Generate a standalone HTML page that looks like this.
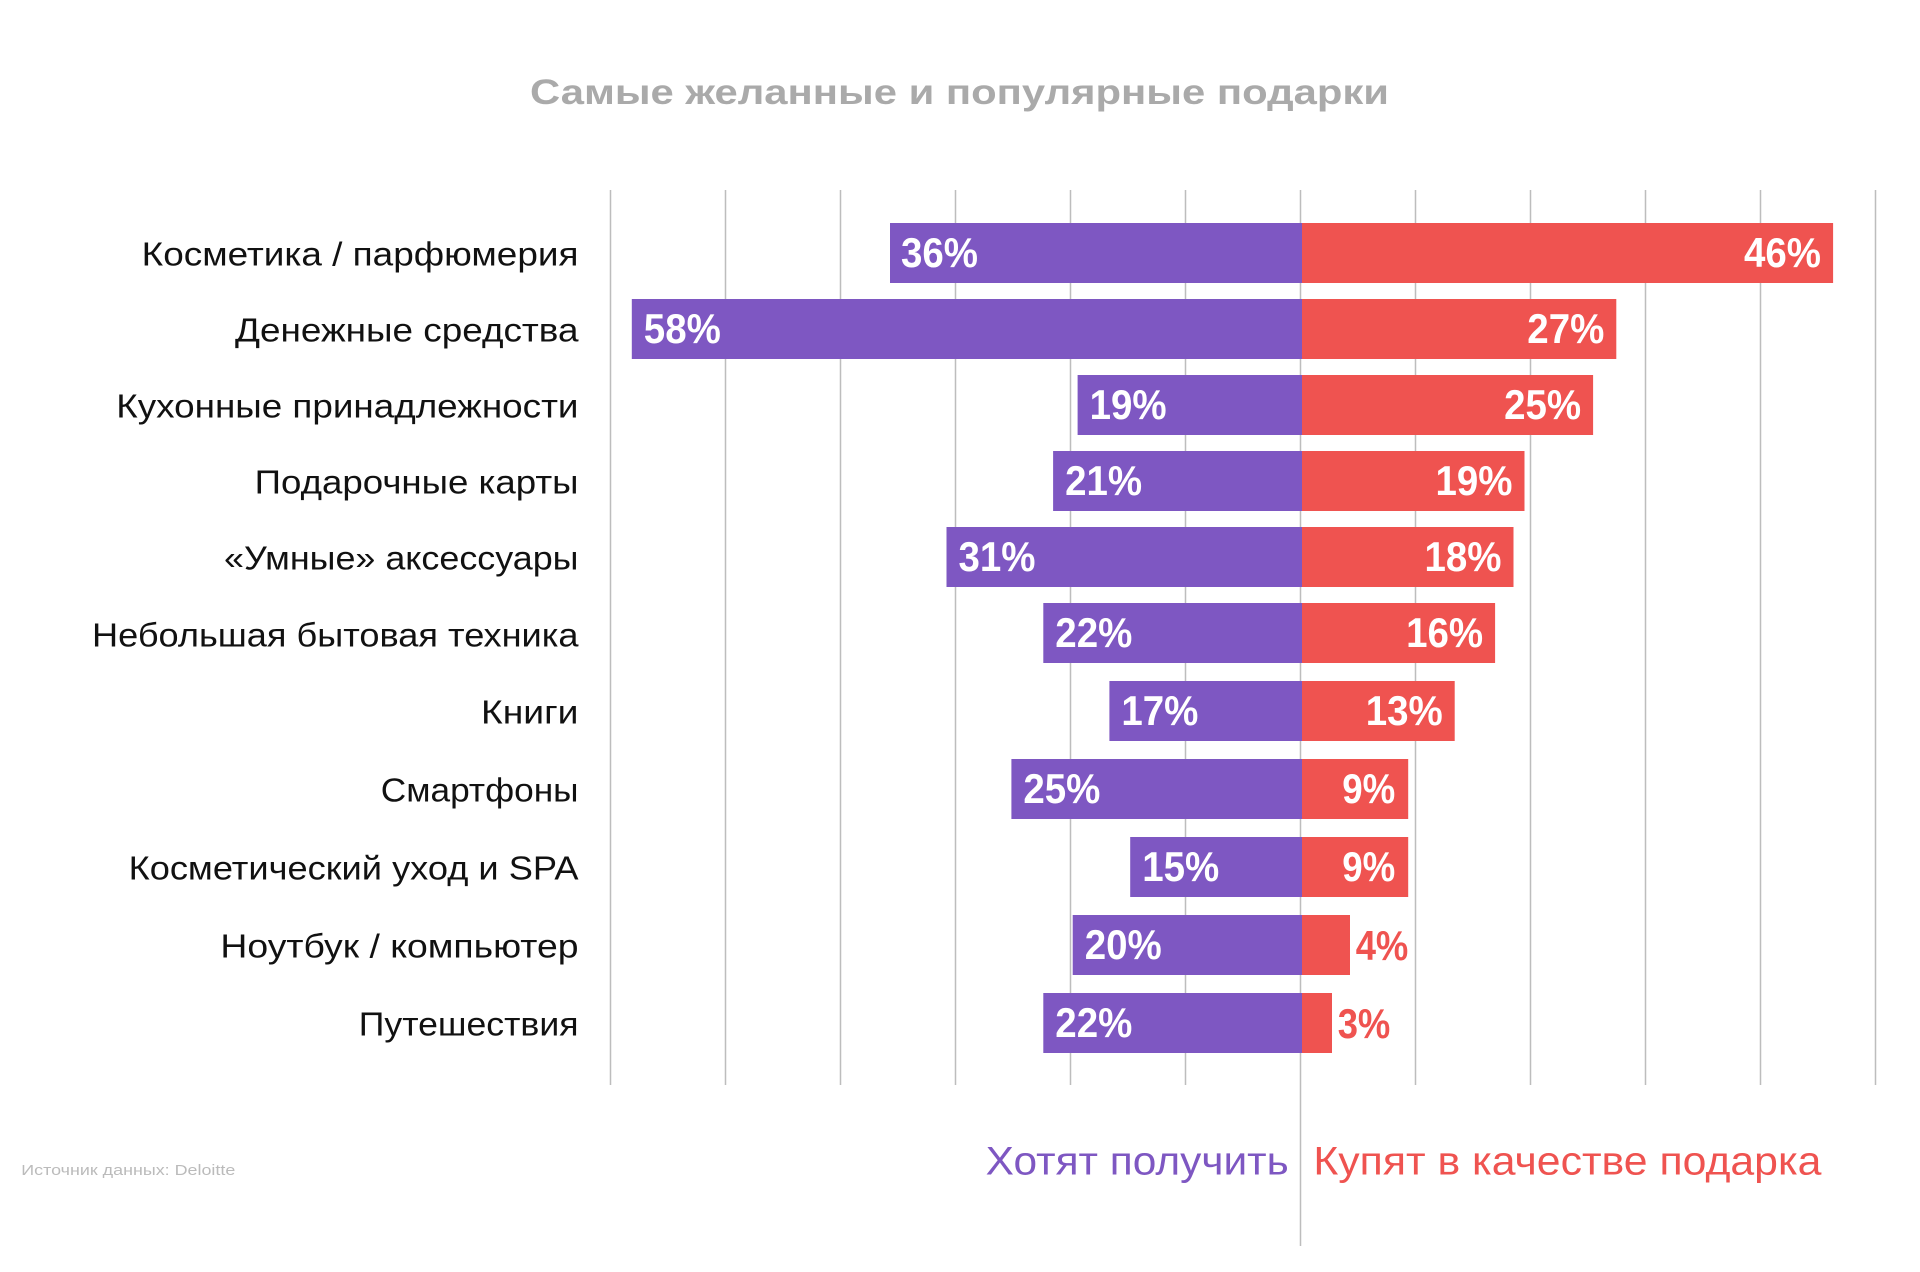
<!DOCTYPE html>
<html>
<head>
<meta charset="utf-8">
<style>
  html, body { margin:0; padding:0; background:#fff; }
  svg { display:block; }
  text { font-family: "Liberation Sans", "DejaVu Sans", sans-serif; }
</style>
</head>
<body>
<svg width="1920" height="1272" viewBox="0 0 1920 1272" xmlns="http://www.w3.org/2000/svg">
  <rect width="1920" height="1272" fill="#ffffff"/>

  <!-- Title -->
  <text x="530" y="104" font-size="35" font-weight="bold" fill="#aaaaaa" textLength="859" lengthAdjust="spacingAndGlyphs">Самые желанные и популярные подарки</text>

  <!-- Grid lines -->
  <g stroke="#bdbdbd" stroke-width="1.5">
    <line x1="610.5" y1="190" x2="610.5" y2="1085"/>
    <line x1="725.5" y1="190" x2="725.5" y2="1085"/>
    <line x1="840.5" y1="190" x2="840.5" y2="1085"/>
    <line x1="955.5" y1="190" x2="955.5" y2="1085"/>
    <line x1="1070.5" y1="190" x2="1070.5" y2="1085"/>
    <line x1="1185.5" y1="190" x2="1185.5" y2="1085"/>
    <line x1="1300.5" y1="190" x2="1300.5" y2="1246"/>
    <line x1="1415.5" y1="190" x2="1415.5" y2="1085"/>
    <line x1="1530.5" y1="190" x2="1530.5" y2="1085"/>
    <line x1="1645.5" y1="190" x2="1645.5" y2="1085"/>
    <line x1="1760.5" y1="190" x2="1760.5" y2="1085"/>
    <line x1="1875.5" y1="190" x2="1875.5" y2="1085"/>
  </g>

  <!-- Bars: purple (left) -->
  <g fill="#7e57c2">
    <rect x="890"    y="223" width="412"   height="60"/>
    <rect x="631.8"  y="299" width="670.2" height="60"/>
    <rect x="1077.6" y="375" width="224.4" height="60"/>
    <rect x="1053.1" y="451" width="248.9" height="60"/>
    <rect x="946.5"  y="527" width="355.5" height="60"/>
    <rect x="1043.3" y="603" width="258.7" height="60"/>
    <rect x="1109.4" y="681" width="192.6" height="60"/>
    <rect x="1011.4" y="759" width="290.6" height="60"/>
    <rect x="1130.2" y="837" width="171.8" height="60"/>
    <rect x="1072.7" y="915" width="229.3" height="60"/>
    <rect x="1043.3" y="993" width="258.7" height="60"/>
  </g>

  <!-- Bars: red (right) -->
  <g fill="#ef5350">
    <rect x="1302" y="223" width="531.1" height="60"/>
    <rect x="1302" y="299" width="314.3" height="60"/>
    <rect x="1302" y="375" width="291.1" height="60"/>
    <rect x="1302" y="451" width="222.5" height="60"/>
    <rect x="1302" y="527" width="211.5" height="60"/>
    <rect x="1302" y="603" width="193.1" height="60"/>
    <rect x="1302" y="681" width="152.7" height="60"/>
    <rect x="1302" y="759" width="106.2" height="60"/>
    <rect x="1302" y="837" width="106.2" height="60"/>
    <rect x="1302" y="915" width="48"    height="60"/>
    <rect x="1302" y="993" width="30"    height="60"/>
  </g>

  <!-- Category labels -->
  <g font-size="33" fill="#111111">
    <text x="141.7" y="265.5" textLength="436.8" lengthAdjust="spacingAndGlyphs">Косметика / парфюмерия</text>
    <text x="235"   y="341.5" textLength="343.5" lengthAdjust="spacingAndGlyphs">Денежные средства</text>
    <text x="116.3" y="417.5" textLength="462.2" lengthAdjust="spacingAndGlyphs">Кухонные принадлежности</text>
    <text x="254.7" y="493.5" textLength="323.8" lengthAdjust="spacingAndGlyphs">Подарочные карты</text>
    <text x="224"   y="569.5" textLength="354.5" lengthAdjust="spacingAndGlyphs">«Умные» аксессуары</text>
    <text x="92"    y="646.5" textLength="486.5" lengthAdjust="spacingAndGlyphs">Небольшая бытовая техника</text>
    <text x="481"   y="723.5" textLength="97.5"  lengthAdjust="spacingAndGlyphs">Книги</text>
    <text x="380.8" y="801.5" textLength="197.7" lengthAdjust="spacingAndGlyphs">Смартфоны</text>
    <text x="128.6" y="879.5" textLength="449.9" lengthAdjust="spacingAndGlyphs">Косметический уход и SPA</text>
    <text x="220.4" y="957.5" textLength="358.1" lengthAdjust="spacingAndGlyphs">Ноутбук / компьютер</text>
    <text x="358.8" y="1035.5" textLength="219.7" lengthAdjust="spacingAndGlyphs">Путешествия</text>
  </g>

  <!-- Values: purple (white, left-aligned inside) -->
  <g font-size="42" font-weight="bold" fill="#ffffff">
    <text x="901"    y="267" textLength="77" lengthAdjust="spacingAndGlyphs">36%</text>
    <text x="643.8"  y="343" textLength="77" lengthAdjust="spacingAndGlyphs">58%</text>
    <text x="1089.6" y="419" textLength="77" lengthAdjust="spacingAndGlyphs">19%</text>
    <text x="1065.1" y="495" textLength="77" lengthAdjust="spacingAndGlyphs">21%</text>
    <text x="958.5"  y="571" textLength="77" lengthAdjust="spacingAndGlyphs">31%</text>
    <text x="1055.3" y="647" textLength="77" lengthAdjust="spacingAndGlyphs">22%</text>
    <text x="1121.4" y="725" textLength="77" lengthAdjust="spacingAndGlyphs">17%</text>
    <text x="1023.4" y="803" textLength="77" lengthAdjust="spacingAndGlyphs">25%</text>
    <text x="1142.2" y="881" textLength="77" lengthAdjust="spacingAndGlyphs">15%</text>
    <text x="1084.7" y="959" textLength="77" lengthAdjust="spacingAndGlyphs">20%</text>
    <text x="1055.3" y="1037" textLength="77" lengthAdjust="spacingAndGlyphs">22%</text>
  </g>

  <!-- Values: red (white, right-aligned inside) -->
  <g font-size="42" font-weight="bold" fill="#ffffff">
    <text x="1744" y="267" textLength="77" lengthAdjust="spacingAndGlyphs">46%</text>
    <text x="1527.3" y="343" textLength="77" lengthAdjust="spacingAndGlyphs">27%</text>
    <text x="1504.1" y="419" textLength="77" lengthAdjust="spacingAndGlyphs">25%</text>
    <text x="1435.5" y="495" textLength="77" lengthAdjust="spacingAndGlyphs">19%</text>
    <text x="1424.5" y="571" textLength="77" lengthAdjust="spacingAndGlyphs">18%</text>
    <text x="1406.1" y="647" textLength="77" lengthAdjust="spacingAndGlyphs">16%</text>
    <text x="1365.7" y="725" textLength="77" lengthAdjust="spacingAndGlyphs">13%</text>
    <text x="1342.2" y="803" textLength="53" lengthAdjust="spacingAndGlyphs">9%</text>
    <text x="1342.2" y="881" textLength="53" lengthAdjust="spacingAndGlyphs">9%</text>
  </g>
  <!-- Small red values outside the bar -->
  <g font-size="42" font-weight="bold" fill="#ef5350">
    <text x="1355.7" y="960" textLength="52.6" lengthAdjust="spacingAndGlyphs">4%</text>
    <text x="1337.7" y="1038" textLength="52.6" lengthAdjust="spacingAndGlyphs">3%</text>
  </g>

  <!-- Legend -->
  <text x="985.7" y="1174.3" font-size="40" fill="#7e57c2" textLength="303" lengthAdjust="spacingAndGlyphs">Хотят получить</text>
  <text x="1313.4" y="1174.3" font-size="40" fill="#ef5350" textLength="508" lengthAdjust="spacingAndGlyphs">Купят в качестве подарка</text>

  <!-- Source -->
  <text x="21.3" y="1175" font-size="15" fill="#bbbbbb" textLength="214" lengthAdjust="spacingAndGlyphs">Источник данных: Deloitte</text>
</svg>
</body>
</html>
